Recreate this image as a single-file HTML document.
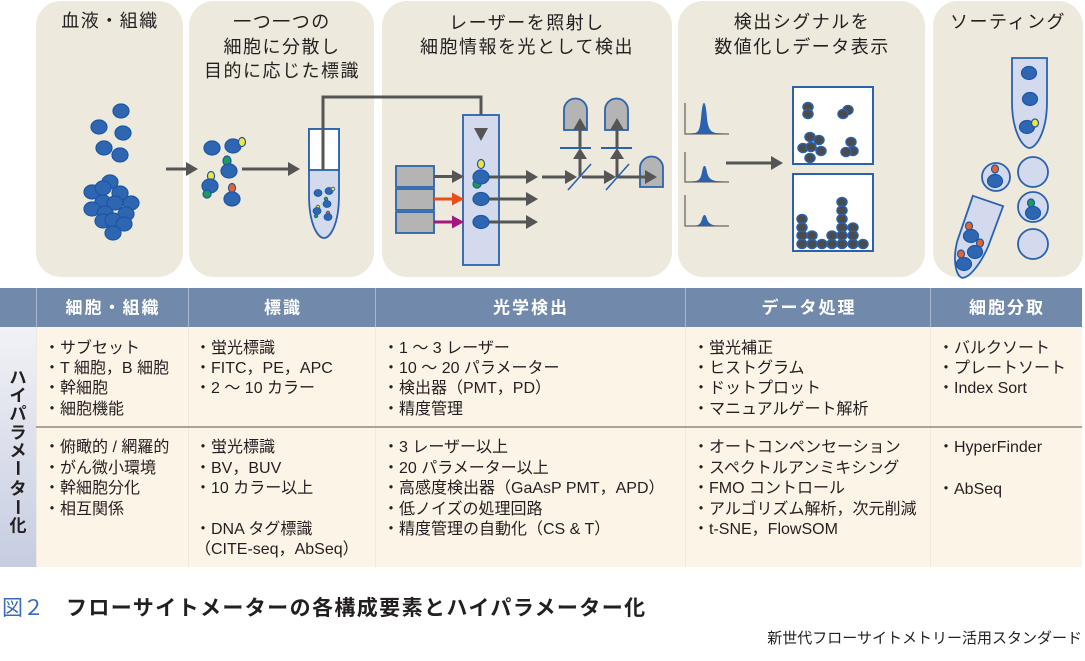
<!DOCTYPE html>
<html><head><meta charset="utf-8">
<style>
html,body{margin:0;padding:0;background:#fff;}
body{width:1085px;height:661px;overflow:hidden;}
svg{display:block;}
text{font-family:"Liberation Sans","Noto Sans CJK JP",sans-serif;}
</style></head>
<body>
<svg width="1085" height="661" viewBox="0 0 1085 661" xmlns="http://www.w3.org/2000/svg">
<defs>
<linearGradient id="lg" x1="0" y1="0" x2="0" y2="1">
<stop offset="0" stop-color="#f1f2f6"/>
<stop offset="1" stop-color="#c6cde1"/>
</linearGradient>
</defs>
<rect x="0" y="0" width="1085" height="661" fill="#ffffff"/>

<!-- panels -->
<g fill="#ede9dd">
<rect x="36" y="1" width="147" height="276" rx="25"/>
<rect x="189" y="1" width="185" height="276" rx="25"/>
<rect x="382" y="1" width="290" height="276" rx="25"/>
<rect x="678" y="1" width="247" height="276" rx="25"/>
<rect x="933" y="1" width="150" height="276" rx="25"/>
</g>

<!-- titles -->
<g font-size="18" fill="#231f20" text-anchor="middle" letter-spacing="1.5">
<text x="110" y="27">血液・組織</text>
<text x="282" y="28">一つ一つの</text>
<text x="282" y="53">細胞に分散し</text>
<text x="282" y="77">目的に応じた標識</text>
<text x="527" y="29">レーザーを照射し</text>
<text x="527" y="53">細胞情報を光として検出</text>
<text x="802" y="28">検出シグナルを</text>
<text x="802" y="53">数値化しデータ表示</text>
<text x="1008" y="28">ソーティング</text>
</g>

<!-- panel 1 cells -->
<g fill="#2f66b1" stroke="#1b57a6" stroke-width="1.2">
<ellipse cx="121" cy="111" rx="8" ry="7"/>
<ellipse cx="99" cy="127" rx="8" ry="7"/>
<ellipse cx="123" cy="133" rx="8" ry="7"/>
<ellipse cx="104" cy="148" rx="8" ry="7"/>
<ellipse cx="120" cy="155" rx="8" ry="7"/>
<ellipse cx="110" cy="182" rx="8" ry="7"/>
<ellipse cx="92" cy="192" rx="8" ry="7"/>
<ellipse cx="103" cy="188" rx="8" ry="7"/>
<ellipse cx="120" cy="193" rx="8" ry="7"/>
<ellipse cx="103" cy="202" rx="8" ry="7"/>
<ellipse cx="115" cy="203" rx="8" ry="7"/>
<ellipse cx="131" cy="203" rx="8" ry="7"/>
<ellipse cx="92" cy="209" rx="8" ry="7"/>
<ellipse cx="105" cy="213" rx="8" ry="7"/>
<ellipse cx="126" cy="214" rx="8" ry="7"/>
<ellipse cx="103" cy="221" rx="8" ry="7"/>
<ellipse cx="113" cy="220" rx="8" ry="7"/>
<ellipse cx="124" cy="224" rx="8" ry="7"/>
<ellipse cx="113" cy="233" rx="8" ry="7"/>
</g>

<!-- arrows panel1->2 -->
<g fill="#555" stroke="none">
<rect x="166" y="167.5" width="21" height="3"/>
<polygon points="186,162 198,169 186,176"/>
<rect x="242" y="167.5" width="47" height="3"/>
<polygon points="288,162 300,169 288,176"/>
</g>

<!-- panel 2 cells -->
<g stroke="#1b57a6" stroke-width="1.2">
<ellipse cx="212" cy="148" rx="8" ry="7" fill="#2f66b1"/>
<ellipse cx="233" cy="146" rx="8" ry="7" fill="#2f66b1"/>
<ellipse cx="242" cy="142" rx="3.5" ry="4.5" fill="#f2e43a"/>
<ellipse cx="227" cy="161" rx="4" ry="5" fill="#1f9a5a"/>
<ellipse cx="229" cy="171" rx="8" ry="7" fill="#2f66b1"/>
<ellipse cx="211" cy="176" rx="3.5" ry="4.5" fill="#f2e43a"/>
<ellipse cx="210" cy="186" rx="8" ry="7" fill="#2f66b1"/>
<ellipse cx="207" cy="194" rx="4" ry="4" fill="#1f9a5a"/>
<ellipse cx="232" cy="188" rx="3.5" ry="4.5" fill="#e8632a"/>
<ellipse cx="232" cy="199" rx="8" ry="7" fill="#2f66b1"/>
</g>

<!-- tube -->
<path d="M309,129 H339 V195 C339,225 330,238 324,238 C318,238 309,225 309,195 Z" fill="#d3daee" stroke="#2a62ad" stroke-width="1.8"/>
<rect x="309" y="129" width="30" height="41" fill="#ffffff" stroke="#2a62ad" stroke-width="1.8"/>
<g stroke="#1b57a6" stroke-width="0.8">
<ellipse cx="318" cy="193" rx="4" ry="3.5" fill="#2f66b1"/>
<ellipse cx="329" cy="191" rx="4" ry="3.5" fill="#2f66b1"/>
<circle cx="333" cy="189" r="1.8" fill="#f2e43a"/>
<circle cx="326" cy="199" r="1.8" fill="#1f9a5a"/>
<ellipse cx="327" cy="204" rx="4" ry="3.5" fill="#2f66b1"/>
<circle cx="318" cy="207" r="1.8" fill="#f2e43a"/>
<ellipse cx="317" cy="211" rx="4" ry="3.5" fill="#2f66b1"/>
<circle cx="316" cy="216" r="1.8" fill="#1f9a5a"/>
<circle cx="328" cy="213" r="1.8" fill="#e8632a"/>
<ellipse cx="328" cy="217" rx="4" ry="3.5" fill="#2f66b1"/>
</g>

<!-- tube to flow cell line -->
<path d="M323,170 V97 H481 V129" fill="none" stroke="#555" stroke-width="3"/>

<!-- flow cell -->
<rect x="463" y="115" width="36" height="150" fill="#d3daee" stroke="#2a62ad" stroke-width="1.8"/>
<polygon points="474,128 488,128 481,141" fill="#555"/>

<!-- lasers -->
<g fill="#b4b4b4" stroke="#2a62ad" stroke-width="1.8">
<rect x="396" y="166" width="38" height="21"/>
<rect x="396" y="189" width="38" height="21"/>
<rect x="396" y="212" width="38" height="21"/>
</g>
<rect x="434" y="175" width="19" height="3" fill="#555"/>
<polygon points="452,170 464,176.5 452,183" fill="#555"/>
<rect x="434" y="197.5" width="19" height="3" fill="#e94e1b"/>
<polygon points="452,192.5 464,199 452,205.5" fill="#e94e1b"/>
<rect x="434" y="220.5" width="19" height="3" fill="#a3177f"/>
<polygon points="452,215.5 464,222 452,228.5" fill="#a3177f"/>

<!-- output arrows -->
<g fill="#555">
<rect x="481" y="175.5" width="46" height="3"/>
<polygon points="526,170 538,177 526,184"/>
<rect x="481" y="197.5" width="46" height="3"/>
<polygon points="526,192 538,199 526,206"/>
<rect x="481" y="220.5" width="46" height="3"/>
<polygon points="526,215 538,222 526,229"/>
</g>

<!-- flow cell cells -->
<g stroke="#1b57a6" stroke-width="1.2">
<ellipse cx="481" cy="164" rx="3.5" ry="4.5" fill="#f2e43a"/>
<ellipse cx="477" cy="184" rx="4" ry="4" fill="#1f9a5a"/>
<ellipse cx="481" cy="177" rx="8" ry="7" fill="#2f66b1"/>
<ellipse cx="481" cy="199" rx="8" ry="6.5" fill="#2f66b1"/>
<ellipse cx="481" cy="222" rx="8" ry="6.5" fill="#2f66b1"/>
</g>

<!-- detectors -->
<g fill="#b4b4b4" stroke="#2a62ad" stroke-width="1.8">
<path d="M564,130 V110 A11.5,11.5 0 0 1 587,110 V130 Z"/>
<path d="M605,130 V110 A11.5,11.5 0 0 1 628,110 V130 Z"/>
<path d="M640,187 V168 A11.5,11.5 0 0 1 663,168 V187 Z"/>
</g>
<!-- filters -->
<g stroke="#2a62ad" stroke-width="2">
<line x1="560" y1="148" x2="591" y2="148"/>
<line x1="601" y1="148" x2="632" y2="148"/>
</g>
<!-- detector path arrows -->
<g fill="#555">
<rect x="542" y="175.5" width="24" height="3"/>
<polygon points="565,170 577,177 565,184"/>
<rect x="582" y="175.5" width="24" height="3"/>
<polygon points="604,170 616,177 604,184"/>
<rect x="617" y="175.5" width="29" height="3"/>
<polygon points="645,170 657,177 645,184"/>
<rect x="578.5" y="157" width="3" height="20"/>
<polygon points="573,159 580,148 587,159"/>
<rect x="578.5" y="128" width="3" height="20"/>
<polygon points="573,130 580,118 587,130"/>
<rect x="615.5" y="157" width="3" height="20"/>
<polygon points="610,159 617,148 624,159"/>
<rect x="615.5" y="128" width="3" height="20"/>
<polygon points="610,130 617,118 624,130"/>
</g>
<g stroke="#2a62ad" stroke-width="1.6">
<line x1="568" y1="190" x2="591" y2="164"/>
<line x1="606" y1="190" x2="629" y2="164"/>
</g>

<!-- histograms -->
<g fill="none" stroke="#6b6b6b" stroke-width="1.3">
<path d="M685,103 V134 H729"/>
<path d="M685,152 V182 H729"/>
<path d="M685,195 V226 H729"/>
</g>
<g fill="#2a62ad">
<path d="M686,134 L695,133 C699,132 700,128 701,118 C702,106 703,103 704,103 C705,103 706,106 707,118 C708,128 710,132 716,133 L729,134 Z"/>
<path d="M686,182 L696,181 C700,180 701,177 702,172 C703,167 703.5,166 704.5,166 C705.5,166 706,167 707,172 C708,177 710,180 716,181 L729,182 Z"/>
<path d="M686,226 L696,225.5 C700,225 701,222 702,219 C703,216 703.5,215 704.5,215 C705.5,215 706,216 707,219 C708,222 710,225 716,225.5 L729,226 Z"/>
</g>
<rect x="726" y="161.5" width="46" height="3" fill="#555"/>
<polygon points="771,156 783,163 771,170" fill="#555"/>

<!-- plot boxes -->
<rect x="793" y="87" width="80" height="77" fill="#fff" stroke="#2a62ad" stroke-width="2"/>
<rect x="793" y="174" width="80" height="77" fill="#fff" stroke="#2a62ad" stroke-width="2"/>
<g fill="#4b4b4b" stroke="#2a62ad" stroke-width="1.5">
<ellipse cx="808" cy="107" rx="5" ry="4.5"/>
<ellipse cx="808" cy="114" rx="5" ry="4.5"/>
<ellipse cx="848" cy="110" rx="5" ry="4.5"/>
<ellipse cx="843" cy="114" rx="5" ry="4.5"/>
<ellipse cx="810" cy="137" rx="5" ry="4.5"/>
<ellipse cx="819" cy="140" rx="5" ry="4.5"/>
<ellipse cx="803" cy="148" rx="5" ry="4.5"/>
<ellipse cx="811" cy="147" rx="5" ry="4.5"/>
<ellipse cx="821" cy="151" rx="5" ry="4.5"/>
<ellipse cx="810" cy="158" rx="5" ry="4.5"/>
<ellipse cx="851" cy="142" rx="5" ry="4.5"/>
<ellipse cx="853" cy="151" rx="5" ry="4.5"/>
<ellipse cx="846" cy="152" rx="5" ry="4.5"/>
<!-- histogram dots -->
<ellipse cx="802" cy="219" rx="5" ry="4.5"/>
<ellipse cx="802" cy="227.5" rx="5" ry="4.5"/>
<ellipse cx="802" cy="235.5" rx="5" ry="4.5"/>
<ellipse cx="802" cy="244" rx="5" ry="4.5"/>
<ellipse cx="812" cy="235.5" rx="5" ry="4.5"/>
<ellipse cx="812" cy="244" rx="5" ry="4.5"/>
<ellipse cx="822" cy="244" rx="5" ry="4.5"/>
<ellipse cx="832" cy="235.5" rx="5" ry="4.5"/>
<ellipse cx="832" cy="244" rx="5" ry="4.5"/>
<ellipse cx="842" cy="202" rx="5" ry="4.5"/>
<ellipse cx="842" cy="210.5" rx="5" ry="4.5"/>
<ellipse cx="842" cy="219" rx="5" ry="4.5"/>
<ellipse cx="842" cy="227.5" rx="5" ry="4.5"/>
<ellipse cx="842" cy="235.5" rx="5" ry="4.5"/>
<ellipse cx="842" cy="244" rx="5" ry="4.5"/>
<ellipse cx="853" cy="227.5" rx="5" ry="4.5"/>
<ellipse cx="853" cy="235.5" rx="5" ry="4.5"/>
<ellipse cx="853" cy="244" rx="5" ry="4.5"/>
<ellipse cx="863" cy="244" rx="5" ry="4.5"/>
</g>

<!-- panel 5 sorting -->
<path d="M1012,58 H1047 V102 C1047,132 1036,148 1029.5,148 C1023,148 1012,132 1012,102 Z" fill="#d3daee" stroke="#2a62ad" stroke-width="1.8"/>
<g fill="#d3daee" stroke="#2a62ad" stroke-width="1.8">
<circle cx="1033" cy="172" r="15"/>
<circle cx="1033" cy="207" r="15"/>
<circle cx="1033" cy="244" r="15"/>
<circle cx="996" cy="177" r="14"/>
<path transform="translate(988,201) rotate(19)" d="M-16,0 H16 L15,42 C13,68 5,81 0,81 C-5,81 -14,70 -16,48 Z"/>
</g>
<g stroke="#1b57a6" stroke-width="1.2">
<ellipse cx="1029" cy="73" rx="7.5" ry="6.5" fill="#2f66b1"/>
<ellipse cx="1030" cy="99" rx="7.5" ry="6.5" fill="#2f66b1"/>
<ellipse cx="1027" cy="127" rx="7.5" ry="6.5" fill="#2f66b1"/>
<ellipse cx="1035" cy="123" rx="3.5" ry="4" fill="#f2e43a"/>
<ellipse cx="995" cy="169" rx="3.5" ry="4" fill="#e8632a"/>
<ellipse cx="995" cy="181" rx="7.5" ry="6.5" fill="#2f66b1"/>
<ellipse cx="1031" cy="203" rx="3.5" ry="4" fill="#1f9a5a"/>
<ellipse cx="1033" cy="213" rx="7.5" ry="6.5" fill="#2f66b1"/>
<ellipse cx="969" cy="226" rx="3.5" ry="4" fill="#e8632a"/>
<ellipse cx="971" cy="236" rx="7.5" ry="6.5" fill="#2f66b1"/>
<ellipse cx="980" cy="243" rx="3.5" ry="4" fill="#e8632a"/>
<ellipse cx="975" cy="252" rx="7.5" ry="6.5" fill="#2f66b1"/>
<ellipse cx="961" cy="254" rx="3.5" ry="4" fill="#e8632a"/>
<ellipse cx="964" cy="264" rx="7.5" ry="6.5" fill="#2f66b1"/>
</g>

<!-- TABLE -->
<rect x="0" y="288" width="1082" height="39" fill="#7189ab"/>
<rect x="36" y="327" width="1046" height="240" fill="#fdf4e8"/>
<rect x="0" y="327" width="36" height="240" fill="url(#lg)"/>
<g stroke="#a7b6cc" stroke-width="1">
<line x1="36.5" y1="288" x2="36.5" y2="327"/>
<line x1="188.5" y1="288" x2="188.5" y2="327"/>
<line x1="375.5" y1="288" x2="375.5" y2="327"/>
<line x1="685.5" y1="288" x2="685.5" y2="327"/>
<line x1="930.5" y1="288" x2="930.5" y2="327"/>
</g>
<g stroke="#efe8dc" stroke-width="1">
<line x1="36.5" y1="327" x2="36.5" y2="567"/>
<line x1="188.5" y1="327" x2="188.5" y2="567"/>
<line x1="375.5" y1="327" x2="375.5" y2="567"/>
<line x1="685.5" y1="327" x2="685.5" y2="567"/>
<line x1="930.5" y1="327" x2="930.5" y2="567"/>
</g>
<rect x="36" y="426" width="1046" height="2" fill="#a9a39a"/>

<g font-size="17" font-weight="bold" fill="#ffffff" text-anchor="middle" letter-spacing="2">
<text x="113" y="313.5">細胞・組織</text>
<text x="283" y="313.5">標識</text>
<text x="531" y="313.5">光学検出</text>
<text x="809" y="313.5">データ処理</text>
<text x="1007" y="313.5">細胞分取</text>
</g>

<!-- vertical label -->
<g font-size="17" font-weight="bold" fill="#231f20" text-anchor="middle">
<text x="18" y="383.5">ハ</text>
<text x="18" y="401.5">イ</text>
<text x="18" y="419.5">パ</text>
<text x="18" y="438.5">ラ</text>
<text x="18" y="456.5">メ</text>
<text x="18" y="474.5" transform="rotate(90 18 468)">ー</text>
<text x="18" y="494.5">タ</text>
<text x="18" y="513.5" transform="rotate(90 18 507)">ー</text>
<text x="18" y="531.5">化</text>
</g>

<g font-size="16" fill="#231f20">
<text x="44" y="353">・サブセット</text>
<text x="44" y="373">・T 細胞，B 細胞</text>
<text x="44" y="393">・幹細胞</text>
<text x="44" y="414">・細胞機能</text>
<text x="44" y="452">・俯瞰的 / 網羅的</text>
<text x="44" y="473">・がん微小環境</text>
<text x="44" y="493">・幹細胞分化</text>
<text x="44" y="514">・相互関係</text>

<text x="195" y="353">・蛍光標識</text>
<text x="195" y="373">・FITC，PE，APC</text>
<text x="195" y="393">・2 ～ 10 カラー</text>
<text x="195" y="452">・蛍光標識</text>
<text x="195" y="473">・BV，BUV</text>
<text x="195" y="493">・10 カラー以上</text>
<text x="195" y="534">・DNA タグ標識</text>
<text x="195" y="554">（CITE-seq，AbSeq）</text>

<text x="383" y="353">・1 ～ 3 レーザー</text>
<text x="383" y="373">・10 ～ 20 パラメーター</text>
<text x="383" y="393">・検出器（PMT，PD）</text>
<text x="383" y="414">・精度管理</text>
<text x="383" y="452">・3 レーザー以上</text>
<text x="383" y="473">・20 パラメーター以上</text>
<text x="383" y="493">・高感度検出器（GaAsP PMT，APD）</text>
<text x="383" y="514">・低ノイズの処理回路</text>
<text x="383" y="534">・精度管理の自動化（CS &amp; T）</text>

<text x="693" y="353">・蛍光補正</text>
<text x="693" y="373">・ヒストグラム</text>
<text x="693" y="393">・ドットプロット</text>
<text x="693" y="414">・マニュアルゲート解析</text>
<text x="693" y="452">・オートコンペンセーション</text>
<text x="693" y="473">・スペクトルアンミキシング</text>
<text x="693" y="493">・FMO コントロール</text>
<text x="693" y="514">・アルゴリズム解析，次元削減</text>
<text x="693" y="534">・t-SNE，FlowSOM</text>

<text x="938" y="353">・バルクソート</text>
<text x="938" y="373">・プレートソート</text>
<text x="938" y="393">・Index Sort</text>
<text x="938" y="452">・HyperFinder</text>
<text x="938" y="494">・AbSeq</text>
</g>

<!-- caption -->
<text x="2" y="615" font-size="21" fill="#3b6cb5">図２</text>
<text x="66" y="615" font-size="21" font-weight="bold" fill="#231f20" letter-spacing="1.4">フローサイトメーターの各構成要素とハイパラメーター化</text>
<text x="1082" y="643" font-size="15" fill="#231f20" text-anchor="end">新世代フローサイトメトリー活用スタンダード</text>
</svg>
</body></html>
